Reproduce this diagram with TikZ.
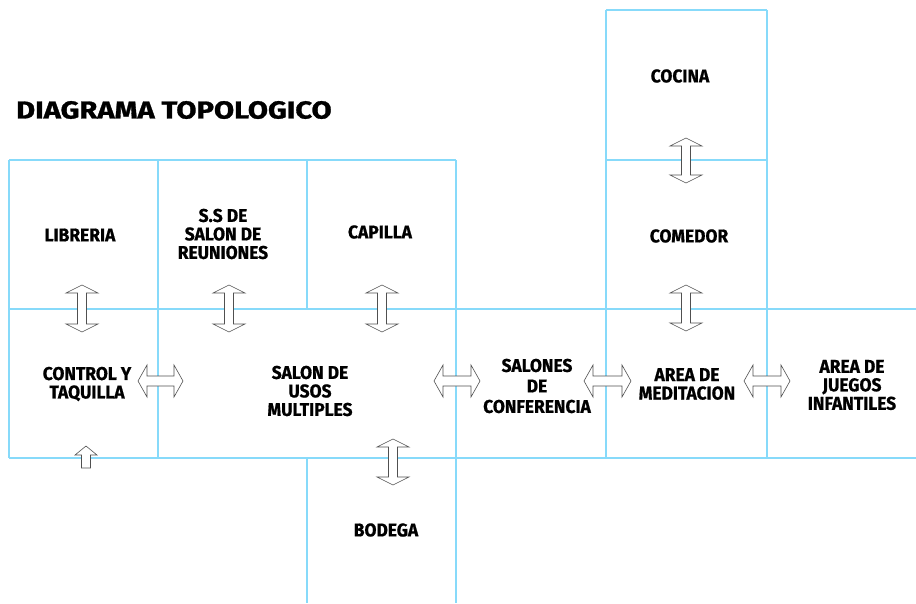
\documentclass[tikz,border=0pt]{standalone}
\usepackage{fontspec}
\newfontfamily\labfont{Fira Sans}[FakeBold=0.8,FakeStretch=0.94]
\newfontfamily\titlefont{Fira Sans}[FakeStretch=1.19,FakeBold=1.2]
\definecolor{gridblue}{RGB}{135,218,250}
\definecolor{arrowgray}{RGB}{80,80,80}
\tikzset{
  gridline/.style={draw=gridblue,line width=1.1pt},
  blockarrow/.style={draw=arrowgray,fill=white,line width=0.6pt,line join=miter},
  room/.style={font=\labfont\bfseries\fontsize{18.5}{18.5}\selectfont,align=center,inner sep=0pt},
  titletext/.style={font=\titlefont\bfseries\fontsize{24.5}{26}\selectfont,anchor=west,inner sep=0pt}
}
% vertical double block arrow: x, top y, bottom y
\newcommand\vdarrow[3]{%
  \draw[blockarrow] (#1,#2) -- ++(16,8) -- (#1+4.5,#2+8) -- (#1+4.5,#3-8) -- (#1+16,#3-8)
    -- (#1,#3) -- (#1-16,#3-8) -- (#1-4.5,#3-8) -- (#1-4.5,#2+8) -- (#1-16,#2+8) -- cycle;}
% horizontal double block arrow: y, left x, right x
\newcommand\hdarrow[3]{%
  \draw[blockarrow] (#2,#1) -- (#2+9,#1-16) -- (#2+9,#1-5) -- (#3-9,#1-5) -- (#3-9,#1-16)
    -- (#3,#1) -- (#3-9,#1+16) -- (#3-9,#1+5) -- (#2+9,#1+5) -- (#2+9,#1+16) -- cycle;}
\begin{document}
\begin{tikzpicture}[x=1pt,y=-1pt]
\useasboundingbox (0,0) rectangle (916,603);
% grid
\draw[gridline] (9,160) -- (456,160);
\draw[gridline] (606,10) -- (767,10);
\draw[gridline] (606,160) -- (767,160);
\draw[gridline] (9,309) -- (916,309);
\draw[gridline] (9,458) -- (916,458);
\draw[gridline] (9,160) -- (9,458);
\draw[gridline] (158,160) -- (158,458);
\draw[gridline] (307,160) -- (307,309);
\draw[gridline] (307,458) -- (307,603);
\draw[gridline] (456,160) -- (456,603);
\draw[gridline] (606,10) -- (606,458);
\draw[gridline] (767,10) -- (767,458);
% title
\node[titletext] (title) at (16,110) {DIAGRAMA TOPOLOGICO};
% rooms
\node[room] (libreria) at (80,235) {LIBRERIA};
\node[room] (ss) at (223,234) {S.S DE\\SALON DE\\REUNIONES};
\node[room] (capilla) at (380,232) {CAPILLA};
\node[room] (control) at (87,384) {CONTROL Y\\TAQUILLA};
\node[room] (usos) at (310,391) {SALON DE\\USOS\\MULTIPLES};
\node[room,font=\labfont\bfseries\fontsize{18.5}{20.5}\selectfont] (conf) at (537,386) {SALONES\\DE\\CONFERENCIA};
\node[room] (medit) at (687,384) {AREA DE\\MEDITACION};
\node[room] (juegos) at (852,385) {AREA DE\\JUEGOS\\INFANTILES};
\node[room] (cocina) at (680,76) {COCINA};
\node[room] (comedor) at (689,236) {COMEDOR};
\node[room] (bodega) at (386,530) {BODEGA};
% arrows
\vdarrow{82}{285}{332}
\vdarrow{229}{285}{332}
\vdarrow{382}{285}{332}
\vdarrow{686}{138}{183}
\vdarrow{686}{285}{331}
\vdarrow{393}{439}{485}
\hdarrow{381}{138}{183}
\hdarrow{381}{434}{480}
\hdarrow{381}{584}{631}
\hdarrow{381}{744}{790}
% entrance arrow
\draw[blockarrow] (86,446) -- (97,455) -- (90.5,455) -- (90.5,468) -- (81.5,468) -- (81.5,455) -- (75,455) -- cycle;
\end{tikzpicture}
\end{document}
